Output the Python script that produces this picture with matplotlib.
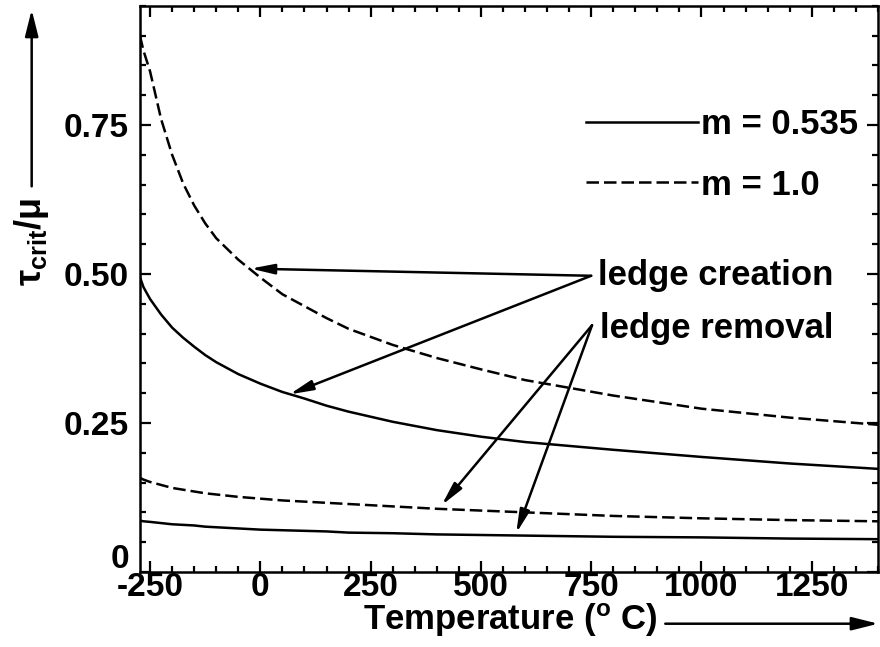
import numpy as np
import matplotlib
matplotlib.use("Agg")
import matplotlib.pyplot as plt
from matplotlib.ticker import MultipleLocator
from matplotlib.transforms import ScaledTranslation

plt.rcParams['font.family'] = ['Liberation Sans', 'DejaVu Sans']
plt.rcParams['font.weight'] = 'bold'
plt.rcParams['mathtext.fontset'] = 'custom'
plt.rcParams['mathtext.rm'] = 'Liberation Sans:bold'
plt.rcParams['mathtext.it'] = 'Liberation Sans:bold'

temps = [-273, -265, -250, -225, -200, -175, -150, -125, -100, -50, 0, 50,
         100, 150, 200, 300, 400, 500, 600, 800, 1000, 1200, 1400]

# ledge creation
create_m1 = [0.900, 0.875, 0.840, 0.760, 0.700, 0.652, 0.615, 0.585, 0.560, 0.524, 0.494, 0.466,
             0.446, 0.426, 0.408, 0.381, 0.359, 0.340, 0.322, 0.296, 0.274, 0.259, 0.247]
create_m0535 = [0.495, 0.478, 0.458, 0.432, 0.410, 0.393, 0.378, 0.364, 0.352, 0.332, 0.316, 0.302,
                0.291, 0.279, 0.269, 0.252, 0.238, 0.227, 0.218, 0.205, 0.193, 0.182, 0.173]
# ledge removal
remove_m1 = [0.158, 0.155, 0.151, 0.146, 0.141, 0.138, 0.135, 0.132, 0.130, 0.126, 0.123, 0.120,
             0.118, 0.116, 0.114, 0.110, 0.106, 0.103, 0.100, 0.094, 0.090, 0.087, 0.085]
remove_m0535 = [0.086, 0.085, 0.084, 0.082, 0.080, 0.079, 0.078, 0.076, 0.075, 0.073, 0.071, 0.070,
                0.069, 0.068, 0.066, 0.065, 0.063, 0.062, 0.061, 0.059, 0.058, 0.056, 0.055]

xticks = [-250, 0, 250, 500, 750, 1000, 1250]
xtick_labels = ['-250', '0', '250', '500', '750', '1000', '1250']
yticks = [0, 0.25, 0.5, 0.75]
ytick_labels = ['0', '0.25', '0.50', '0.75']

fig = plt.figure(figsize=(8.8, 6.47), dpi=100)
ax = fig.add_axes([0.159, 0.116, 0.8386, 0.875])

dash = (0, (5, 2))
lw = 1.8
ax.plot(temps, create_m0535, color='k', lw=lw, label='m = 0.535')
ax.plot(temps, create_m1, color='k', lw=lw, ls=dash, label='m = 1.0')
ax.plot(temps, remove_m0535, color='k', lw=lw)
ax.plot(temps, remove_m1, color='k', lw=lw, ls=dash)

ax.set_xlim(-273, 1400)
ax.set_ylim(0, 0.95)
ax.set_xticks(xticks)
ax.set_xticklabels(xtick_labels)
ax.set_yticks(yticks)
ax.set_yticklabels(ytick_labels)
ax.xaxis.set_minor_locator(MultipleLocator(50))
ax.yaxis.set_minor_locator(MultipleLocator(0.05))
ax.tick_params(which='both', direction='in', top=True, right=True, width=1.6, labelsize=24)
ax.tick_params(which='major', length=8)
ax.tick_params(which='minor', length=4)
ax.tick_params(axis='x', pad=0)
ax.tick_params(axis='y', pad=8)
for s in ax.spines.values():
    s.set_linewidth(1.8)

# the "0" on the y axis sits a bit higher in the original
zero_lab = ax.yaxis.get_major_ticks()[0].label1
zero_lab.set_transform(zero_lab.get_transform() + ScaledTranslation(0, 0.16, fig.dpi_scale_trans))

leg = ax.legend(loc='upper left', bbox_to_anchor=(0.605, 0.82), frameon=False,
                fontsize=25, handlelength=3.2, handletextpad=0.1, labelspacing=0.8,
                borderpad=0, borderaxespad=0)

# annotations
arrow = dict(arrowstyle='-|>,head_length=0.7,head_width=0.15', color='k', lw=1.8,
             shrinkA=0, shrinkB=0, mutation_scale=20)
ax.text(766, 0.481, 'ledge creation', fontsize=25, va='baseline', ha='left')
ax.text(771, 0.392, 'ledge removal', fontsize=25, va='baseline', ha='left')
ax.annotate('', xy=(-22, 0.509), xytext=(750, 0.497), arrowprops=arrow)
ax.annotate('', xy=(66, 0.298), xytext=(750, 0.497), arrowprops=arrow)
ax.annotate('', xy=(411, 0.112), xytext=(752, 0.414), arrowprops=arrow)
ax.annotate('', xy=(580, 0.065), xytext=(752, 0.414), arrowprops=arrow)

# axis labels with arrows
fig.text(0.58, 0.042, r'Temperature ($^{\rm o}$ C)', fontsize=25, ha='center', va='center')
fig.text(0.036, 0.626, r'τ$_{\rm crit}$/μ', fontsize=26, ha='center', va='center', rotation=90)
axis_arrow = dict(arrowstyle='-|>,head_length=0.8,head_width=0.2', color='k', lw=1.8,
                  shrinkA=0, shrinkB=0, mutation_scale=20)
fig.add_artist(matplotlib.patches.FancyArrowPatch((0.756, 0.036), (0.998, 0.036),
                                                  transform=fig.transFigure, **axis_arrow))
fig.add_artist(matplotlib.patches.FancyArrowPatch((0.036, 0.712), (0.036, 0.985),
                                                  transform=fig.transFigure, **axis_arrow))

fig.savefig('out.png', dpi=100)
